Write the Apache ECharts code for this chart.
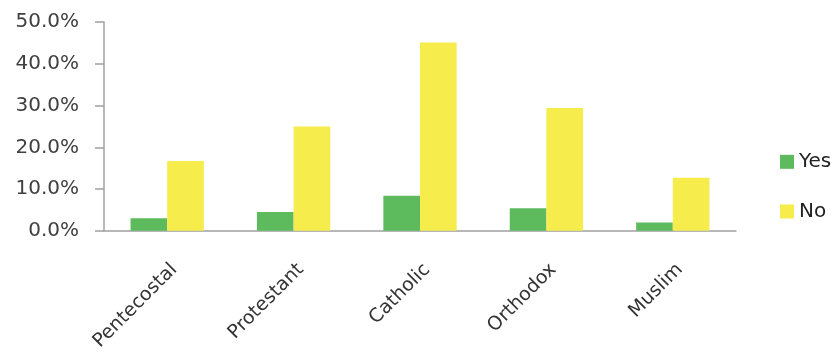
<!doctype html>
<html>
<head>
    <script src="https://cdn.jsdelivr.net/npm/echarts@6/dist/echarts.min.js"></script>
</head>
<body style="margin:0">
<div id="chart" style="width: 840px; height: 360px;"></div>
<script type="text/javascript">
    var categories = ['Pentecostal', 'Protestant', 'Catholic', 'Orthodox', 'Muslim'];
    var yesValues = [3.0, 4.5, 8.4, 5.4, 2.0];
    var noValues = [16.7, 25.0, 45.1, 29.4, 12.7];

    var chart = echarts.init(document.getElementById('chart'));
    var option = {
        animation: false,
        textStyle: {fontFamily: 'DejaVu Sans'},
        grid: {left: 104, right: 104, top: 22, bottom: 129},
        legend: {
            orient: 'vertical',
            left: 775,
            top: 137,
            itemWidth: 14,
            itemHeight: 14,
            itemGap: 10,
            icon: 'rect',
            textStyle: {fontSize: 20, color: '#222'},
            data: ['Yes', 'No']
        },
        xAxis: {
            type: 'category',
            data: categories,
            axisLine: {lineStyle: {color: '#a0a0a0', width: 1.5}},
            axisTick: {length: 9, lineStyle: {color: '#a0a0a0', width: 1.5}},
            axisLabel: {
                rotate: 45, fontSize: 19, color: '#333', margin: 43, interval: 0,
                padding: [0, -10, 0, 0]
            }
        },
        yAxis: {
            type: 'value',
            min: 0,
            max: 50,
            interval: 10,
            splitLine: {show: false},
            axisLine: {show: true, lineStyle: {color: '#a0a0a0', width: 1.5}},
            axisTick: {show: true, length: 9, lineStyle: {color: '#a0a0a0', width: 1.5}},
            axisLabel: {
                fontSize: 20,
                color: '#404040',
                margin: 25,
                formatter: function (v) { return v.toFixed(1) + '%'; }
            }
        },
        series: [
            {name: 'Yes', type: 'bar', data: yesValues, barWidth: '29%', barGap: '0%',
             itemStyle: {color: '#5dbb5d'}},
            {name: 'No', type: 'bar', data: noValues, barWidth: '29%',
             itemStyle: {color: '#f6ec4b'}}
        ]
    };
    chart.setOption(option);
</script>
</body>
</html>
